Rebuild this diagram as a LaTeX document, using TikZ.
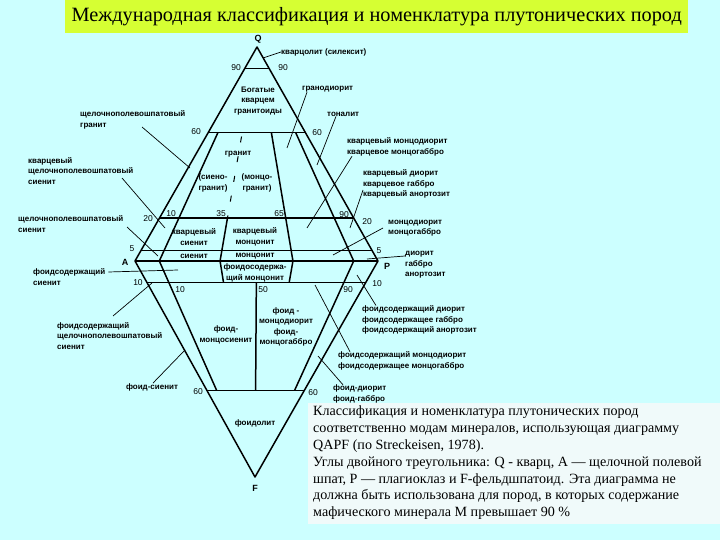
\documentclass[tikz,border=0pt]{standalone}
\usepackage{fontspec}
\setmainfont{Liberation Serif}
\setsansfont{Liberation Sans}
\usetikzlibrary{calc}
\definecolor{pagecyan}{RGB}{204,255,255}
\definecolor{titlegreen}{RGB}{214,255,51}
\definecolor{capbg}{RGB}{240,250,250}
\tikzset{
    qapf/.style={x=1pt, y=-1pt, line join=round},
    border/.style={line width=1.5pt},
    leader/.style={line width=0.7pt},
    field/.style={font=\sffamily\bfseries\fontsize{8}{10.5}\selectfont, align=center, inner sep=0pt},
    note/.style={font=\sffamily\bfseries\fontsize{8}{10.5}\selectfont, align=left, inner sep=0pt, anchor=west},
    num/.style={font=\sffamily\fontsize{8.5}{10}\selectfont, inner sep=0pt},
    vertex/.style={font=\sffamily\bfseries\fontsize{9}{10}\selectfont, inner sep=0pt},
}
\begin{document}
\begin{tikzpicture}[qapf]
    \useasboundingbox (0,0) rectangle (720,540);
    \fill[pagecyan] (0,0) rectangle (720,540);
    \fill[capbg] (308,403) rectangle (720,524);

    % title bar
    \node[fill=titlegreen, minimum width=623pt, minimum height=33pt, inner sep=0pt,
          anchor=north west, font=\fontsize{20.3}{24}\selectfont] (title) at (65,0)
          {Международная классификация и номенклатура плутонических пород};

    % corners of the double triangle
    \coordinate (Q) at (257,47);
    \coordinate (A) at (135,261);
    \coordinate (P) at (378,261);
    \coordinate (F) at (255,477);
    % points on A--P
    \coordinate (b10) at ($(A)!0.10!(P)$);
    \coordinate (b35) at ($(A)!0.35!(P)$);
    \coordinate (b50) at ($(A)!0.50!(P)$);
    \coordinate (b65) at ($(A)!0.65!(P)$);
    \coordinate (b90) at ($(A)!0.90!(P)$);

    % outline and field borders
    \draw[border] (Q) -- (A) -- (F) -- (P) -- cycle;
    \draw[border] (A) -- (P);
    \draw[border] ($(Q)!0.10!(A)$) -- ($(Q)!0.10!(P)$);
    \draw[border] ($(Q)!0.40!(A)$) -- ($(Q)!0.40!(P)$);
    \draw[border] ($(Q)!0.80!(A)$) -- ($(Q)!0.80!(P)$);
    \draw[border] ($(Q)!0.95!(A)$) -- ($(Q)!0.95!(P)$);
    \draw[border] ($(A)!0.10!(F)$) -- ($(P)!0.10!(F)$);
    \draw[border] ($(A)!0.60!(F)$) -- ($(P)!0.60!(F)$);
    \draw[border] ($(Q)!0.4!(b10)$) -- (b10) -- ($(b10)!0.6!(F)$);
    \draw[border] ($(Q)!0.4!(b90)$) -- (b90) -- ($(b90)!0.6!(F)$);
    \draw[border] ($(Q)!0.4!(b65)$) -- (b65) -- ($(b65)!0.1!(F)$);
    \draw[border] ($(Q)!0.8!(b35)$) -- (b35) -- ($(b35)!0.1!(F)$);
    \draw[leader, line width=1pt, dash pattern=on 6pt off 14pt, dash phase=-4pt]
        ($(Q)!0.4!(b35)$) -- ($(Q)!0.8!(b35)$);
    \draw[border] ($(b50)!0.1!(F)$) -- ($(b50)!0.6!(F)$);

    % corner letters
    \node[vertex] (lQ) at (258,39) {Q};
    \node[vertex] (lA) at (125,262) {A};
    \node[vertex] (lP) at (387,266) {P};
    \node[vertex] (lF) at (255,488) {F};

    % percentages
    \node[num] (n90l) at (236,68) {90};
    \node[num] (n90r) at (283,68) {90};
    \node[num] (n60l) at (196,132) {60};
    \node[num] (n60r) at (317,133) {60};
    \node[num] (n20l) at (148,219) {20};
    \node[num] (n10a) at (171,214) {10};
    \node[num] (n35) at (221,214) {35};
    \node[num] (n65) at (279,214) {65};
    \node[num] (n90a) at (344,215) {90};
    \node[num] (n20r) at (367,222) {20};
    \node[num] (n5l) at (132,249) {5};
    \node[num] (n5r) at (379,251) {5};
    \node[num] (n10l) at (138,283) {10};
    \node[num] (n10b) at (180,290) {10};
    \node[num] (n50) at (263,290) {50};
    \node[num] (n90b) at (348,290) {90};
    \node[num] (n10r) at (377,284) {10};
    \node[num] (n60bl) at (198,392) {60};
    \node[num] (n60br) at (313,393) {60};

    % names inside the fields
    \node[field] (richgr) at (258,101) {Богатые\\кварцем\\гранитоиды};
    \node[field] (granite) at (238,154) {гранит};
    \node[field] (syenogr) at (213,183) {(сиено-\\гранит)};
    \node[field] (monzogr) at (257,183) {(монцо-\\гранит)};
    \node[field] (qsyen) at (194,237) {кварцевый\\сиенит};
    \node[field] (qmonz) at (255,237) {кварцевый\\монцонит};
    \node[field] (syen) at (194,256) {сиенит};
    \node[field] (monz) at (255,256) {монцонит};
    \node[field] (fbmonz) at (255,273) {фоидосодержа-\\щий монцонит};
    \node[field] (fmsyen) at (226,335) {фоид-\\монцосиенит};
    \node[field] (fmdior) at (286,327) {фоид -\\монцодиорит\\фоид-\\монцогаббро};
    \node[field] (foidol) at (255,423) {фоидолит};

    % names outside, with leaders
    \node[note] (silex) at (281,52) {кварцолит (силексит)};
    \coordinate (silex-pt) at (263,58);
    \draw[leader] (silex.west) -- (silex-pt);

    \node[note] (grdior) at (302,89) {гранодиорит};
    \coordinate (grdior-pt) at (287,148);
    \draw[leader] ([xshift=5pt]grdior.south west) -- (grdior-pt);

    \node[note] (tonal) at (327,114) {тоналит};
    \coordinate (tonal-pt) at (317,165);
    \draw[leader] ([xshift=9pt]tonal.south west) -- (tonal-pt);

    \node[note] (qmdior) at (347,147) {кварцевый монцодиорит\\кварцевое монцогаббро};
    \coordinate (qmdior-pt) at (307,228);
    \draw[leader] ([xshift=5pt]qmdior.south west) -- (qmdior-pt);

    \node[note] (qdior) at (363,184) {кварцевый диорит\\кварцевое габбро\\кварцевый анортозит};
    \coordinate (qdior-pt) at (350,228);
    \draw[leader] ([yshift=-6pt]qdior.west) -- (qdior-pt);

    \node[note] (mdior) at (388,228) {монцодиорит\\монцогаббро};
    \coordinate (mdior-pt) at (333,255);
    \draw[leader] ([xshift=-5pt]mdior.west) -- (mdior-pt);

    \node[note] (dior) at (405,265) {диорит\\габбро\\анортозит};
    \coordinate (dior-pt) at (367,259);
    \draw[leader] ([yshift=9pt]dior.west) -- (dior-pt);

    \node[note] (fbdior) at (362,320) {фоидсодержащий диорит\\фоидсодержащее габбро\\фоидсодержащий анортозит};
    \coordinate (fbdior-pt) at (357,275);
    \draw[leader] ([xshift=14pt]fbdior.north west) -- (fbdior-pt);

    \node[note] (fbmdior) at (338,361) {фоидсодержащий монцодиорит\\фоидсодержащее монцогаббро};
    \coordinate (fbmdior-pt) at (315,285);
    \draw[leader] ([xshift=12pt]fbmdior.north west) -- (fbmdior-pt);

    \node[note] (fdior) at (333,394) {фоид-диорит\\фоид-габбро};
    \coordinate (fdior-pt) at (318,356);
    \draw[leader] ([xshift=10pt]fdior.north west) -- (fdior-pt);

    \node[note] (afgr) at (80,120) {щелочнополевошпатовый\\гранит};
    \coordinate (afgr-pt) at (190,168);
    \draw[leader] (142,127) -- (afgr-pt);

    \node[note] (qafsyen) at (28,171) {кварцевый\\щелочнополевошпатовый\\сиенит};
    \coordinate (qafsyen-pt) at (165,228);
    \draw[leader] (122,178) -- (qafsyen-pt);

    \node[note] (afsyen) at (18,224) {щелочнополевошпатовый\\сиенит};
    \coordinate (afsyen-pt) at (158,256);
    \draw[leader] (127,227) -- (afsyen-pt);

    \node[note] (fbsyen) at (33,277) {фоидсодержащий\\сиенит};
    \coordinate (fbsyen-pt) at (178,270);
    \draw[leader] ([xshift=3pt, yshift=5pt]fbsyen.east) -- (fbsyen-pt);

    \node[note] (fbafsyen) at (57,336) {фоидсодержащий\\щелочнополевошпатовый\\сиенит};
    \coordinate (fbafsyen-pt) at (152,283);
    \draw[leader] (113,316) -- (fbafsyen-pt);

    \node[field] (fsyen) at (152,387) {фоид-сиенит};
    \coordinate (fsyen-pt) at (185,350);
    \draw[leader] ([xshift=1pt]fsyen.north) -- (fsyen-pt);

    % caption
    \node[anchor=north west, align=left, inner sep=0pt,
          font=\fontsize{14.1}{16.8}\selectfont] (caption) at (313,406)
          {Классификация и номенклатура плутонических пород\\
           соответственно модам минералов, использующая диаграмму\\
           QAPF (по Streckeisen, 1978).\\
           Углы двойного треугольника: Q - кварц, А — щелочной полевой\\
           шпат, Р — плагиоклаз и F-фельдшпатоид. Эта диаграмма не\\
           должна быть использована для пород, в которых содержание\\
           мафического минерала М превышает 90 \%};
\end{tikzpicture}
\end{document}
